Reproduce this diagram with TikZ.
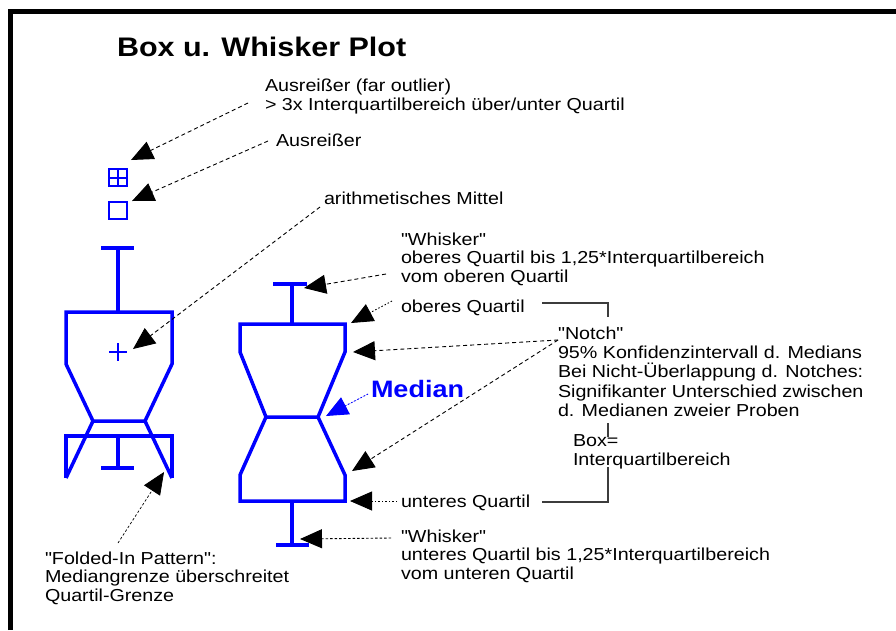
\documentclass[tikz,border=0pt]{standalone}
\usepackage{fontspec}
\setmainfont{Liberation Sans}[Ligatures=TeXOff]
\usetikzlibrary{arrows.meta}
\definecolor{bblue}{RGB}{0,0,255}
\definecolor{brk}{RGB}{60,60,60}
\begin{document}
\begin{tikzpicture}[x=1pt,y=-1pt,
  bx/.style={draw=bblue,line width=3.5pt,line join=miter,line cap=butt},
  sym/.style={draw=bblue,line width=2pt},
  lbl/.style={anchor=base west,inner sep=0pt,outer sep=0pt,yscale=0.88,align=left,
    font=\fontsize{19.7}{20.5}\selectfont},
  ptr/.style={draw=black,line width=0.9pt,dash pattern=on 4pt off 3pt,
    -{Triangle[length=22pt,width=19pt]}},
  dotptr/.style={ptr,dash pattern=on 1.5pt off 2pt},
  fineptr/.style={ptr,dash pattern=on 2.5pt off 2pt},
  brack/.style={draw=brk,line width=1.2pt}]
\useasboundingbox (0,0) rectangle (896,630);
\fill[white] (0,0) rectangle (896,630);
% frame
\draw[line width=5pt,line join=miter] (10.5,630) -- (10.5,11.5) -- (896,11.5);

% title
\node[lbl,font=\bfseries\fontsize{30.5}{32}\selectfont] (title) at (117,56) {Box u. Whisker Plot};

% ---------- left box plot ----------
\draw[sym] (109,169) rectangle (127,186);
\draw[sym] (118,169) -- (118,186) (109,177.5) -- (127,177.5);
\draw[sym] (109,202) rectangle (127,219);
\draw[bx] (101,248) -- (134,248) (118,248) -- (118,312);
\draw[bx] (66,364) -- (66,312) -- (172,312) -- (172,364) -- (145,421) -- (93,421) -- cycle;
\draw[bx] (93,421) -- (66,478) (145,421) -- (172,478);
\draw[bx] (66,478) -- (66,436) -- (172,436) -- (172,478);
\draw[bx] (118,436) -- (118,468) (101,468) -- (134,468);
\draw[sym,line width=2.5pt] (109,352) -- (127,352) (118,343) -- (118,361);

% ---------- right box plot ----------
\draw[bx] (273,284) -- (307,284) (292,284) -- (292,324);
\draw[bx] (240,352) -- (240,324) -- (345,324) -- (345,352) -- (318,417) -- (266,417) -- cycle;
\draw[bx] (266,417) -- (240,475) -- (240,501) -- (345,501) -- (345,475) -- (318,417);
\draw[bx] (292,501) -- (292,545) (276,545) -- (309,545);

% ---------- texts (multi-line nodes: base = last line) ----------
\node[lbl] (far) at (265,110) {Ausreißer (far outlier)\\> 3x Interquartilbereich über/unter Quartil};
\node[lbl] (out) at (276,146) {Ausreißer};
\node[lbl] (mean) at (324,204) {arithmetisches Mittel};
\node[lbl] (wup) at (401,282) {"Whisker"\\oberes Quartil bis 1,25*Interquartilbereich\\vom oberen Quartil};
\node[lbl] (oq) at (401,312) {oberes Quartil};
\node[lbl,font=\fontsize{19.7}{21.6}\selectfont] (notch) at (558,416) {"Notch"\\95\% Konfidenzintervall d. Medians\\Bei Nicht-Überlappung d. Notches:\\Signifikanter Unterschied zwischen\\d. Medianen zweier Proben};
\node[lbl,font=\bfseries\fontsize{27}{28}\selectfont,text=bblue] (med) at (371,397) {Median};
\node[lbl] (box) at (573,465) {Box=\\Interquartilbereich};
\node[lbl] (uq) at (401,507) {unteres Quartil};
\node[lbl] (wlo) at (401,579) {"Whisker"\\unteres Quartil bis 1,25*Interquartilbereich\\vom unteren Quartil};
\node[lbl] (fold) at (45,601) {"Folded-In Pattern":\\Mediangrenze überschreitet\\Quartil-Grenze};

% ---------- bracket ----------
\draw[brack] (542,303) -- (608,303) -- (608,317);
\draw[brack] (608,423) -- (608,437);
\draw[brack] (608,467) -- (608,502) -- (542,502);

% ---------- pointers ----------
\coordinate (s1) at (248,103); \coordinate (p1) at (131,160);
\coordinate (s2) at (268,141); \coordinate (p2) at (132,201);
\coordinate (s3) at (320,207); \coordinate (p3) at (133,349);
\coordinate (s4) at (118,543); \coordinate (p4) at (164,472);
\coordinate (s5) at (386,274); \coordinate (p5) at (304,288);
\coordinate (s6) at (392,301); \coordinate (p6) at (351,323);
\coordinate (s7) at (558,340); \coordinate (p7) at (353,352);
\coordinate (p8) at (352,471);
\coordinate (s9) at (368,394); \coordinate (p9) at (326,416);
\coordinate (s10) at (397,501); \coordinate (p10) at (350,501);
\coordinate (s11) at (391,538); \coordinate (p11) at (300,539);

\draw[ptr] (s1) -- (p1);
\draw[ptr] (s2) -- (p2);
\draw[ptr] (s3) -- (p3);
\draw[fineptr,line width=0.7pt] (s4) -- (p4);
\draw[ptr] (s5) -- (p5);
\draw[dotptr] (s6) -- (p6);
\draw[ptr] (s7) -- (p7);
\draw[ptr] (s7) -- (p8);
\draw[dotptr,draw=bblue,fill=bblue] (s9) -- (p9);
\draw[dotptr] (s10) -- (p10);
\draw[fineptr] (s11) -- (p11);
\end{tikzpicture}
\end{document}
